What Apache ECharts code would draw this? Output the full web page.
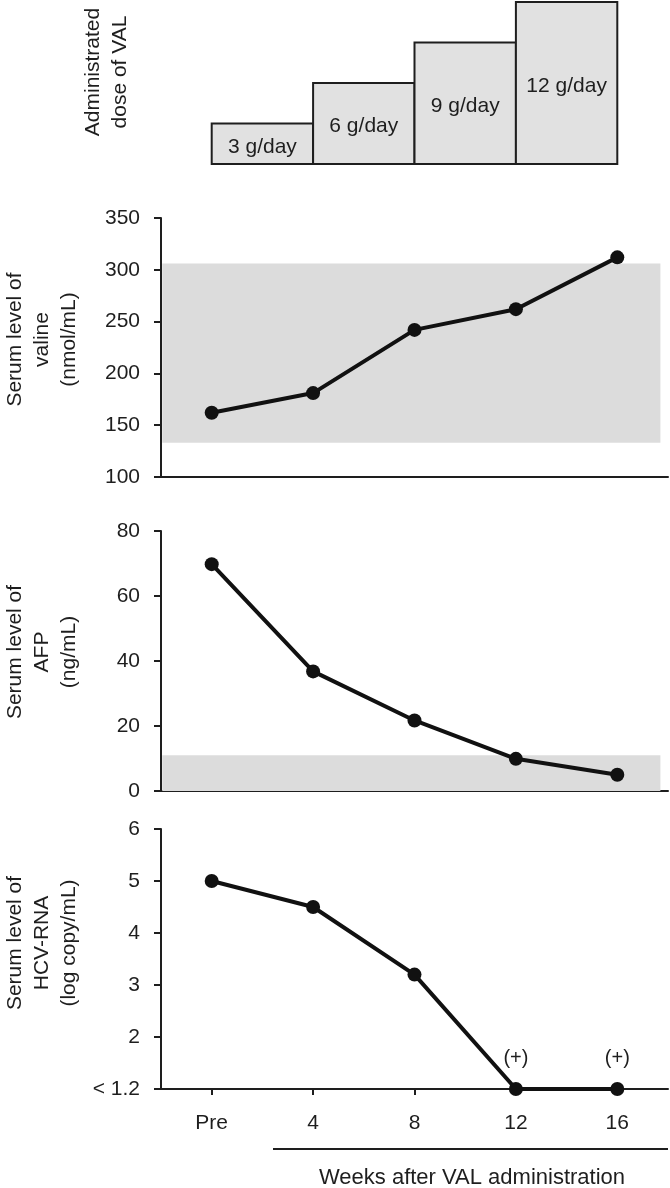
<!DOCTYPE html>
<html>
<head>
<meta charset="utf-8">
<script src="https://cdn.jsdelivr.net/npm/echarts@6/dist/echarts.min.js"></script>
<style>
  html, body { margin: 0; padding: 0; background: #ffffff; }
  #chart { width: 670px; height: 1188px; }
</style>
</head>
<body>
<div id="chart"></div>
<script>
// ---- data ----
const weeks = [0, 4, 8, 12, 16];
const weekLabels = ['Pre', '4', '8', '12', '16'];

const doseStart = [0, 4, 8, 12];
const doseEnd = [4, 8, 12, 16];
const doseValues = [3, 6, 9, 12];
const doseLabels = ['3 g/day', '6 g/day', '9 g/day', '12 g/day'];

const valine = [162, 181, 242, 262, 312];
const valineRange = [133, 306];          // shaded reference range
const afp = [69.8, 36.8, 21.7, 9.9, 5.0];
const afpRange = [0, 11];                // shaded reference range
const hcv = [5.0, 4.5, 3.2, 1.0, 1.0];   // 1.0 = below detection limit (< 1.2)
const hcvNotes = ['', '', '', '(+)', '(+)'];

const valineTicks = { min: 100, max: 350, interval: 50 };
const afpTicks = { min: 0, max: 80, interval: 20 };
const hcvTicks = { min: 1, max: 6, interval: 1 };
const hcvBottomLabel = '< 1.2';

const xRange = { min: -2, max: 18 };
const bandEnd = 17.7;

// ---- chart ----
const FONT = "'Liberation Sans', Arial, sans-serif";
const INK = '#1e1e1e';
const chart = echarts.init(document.getElementById('chart'), null, { renderer: 'canvas' });

function pairs(ys) { return weeks.map((w, i) => [w, ys[i]]); }

function xAxisBase(gridIndex, showLabels) {
  return {
    type: 'value', gridIndex, min: xRange.min, max: xRange.max,
    splitLine: { show: false },
    axisLine: { show: gridIndex !== 0, onZero: false, lineStyle: { color: INK, width: 2 } },
    axisTick: showLabels
      ? { show: true, inside: false, length: 6, customValues: weeks, lineStyle: { color: INK, width: 2 } }
      : { show: false },
    axisLabel: showLabels
      ? { show: true, customValues: weeks, margin: 24, fontSize: 21, fontFamily: FONT, color: INK,
          formatter: v => weekLabels[weeks.indexOf(v)] }
      : { show: false }
  };
}

function yAxisBase(gridIndex, ticks, name, shiftUp, fmt) {
  return {
    type: 'value', gridIndex, min: ticks.min, max: ticks.max, interval: ticks.interval,
    splitLine: { show: false },
    axisLine: { show: true, onZero: false, lineStyle: { color: INK, width: 2 } },
    axisTick: { show: true, length: 7, lineStyle: { color: INK, width: 2 } },
    axisLabel: { fontSize: 21, fontFamily: FONT, color: INK, margin: 21, formatter: fmt },
    name, nameLocation: 'middle', nameRotate: 90, nameGap: 78,
    nameMoveOverlap: false,
    nameTextStyle: { fontSize: 21, fontFamily: FONT, color: INK, lineHeight: 27, align: 'center',
                     padding: [0, 0, 0, shiftUp * 2] }
  };
}

const lineSeries = (idx, ys, extra) => Object.assign({
  type: 'line', xAxisIndex: idx, yAxisIndex: idx,
  data: pairs(ys),
  symbol: 'circle', symbolSize: 14,
  lineStyle: { color: '#111', width: 4 },
  itemStyle: { color: '#111' },
  z: 5
}, extra || {});

const gridBase = { left: 161, right: 2, outerBoundsMode: 'none', containLabel: false };

const option = {
  backgroundColor: '#ffffff',
  animation: false,
  grid: [
    Object.assign({ top: 2, height: 162 }, gridBase),
    Object.assign({ top: 218, height: 259 }, gridBase),
    Object.assign({ top: 531, height: 260 }, gridBase),
    Object.assign({ top: 829, height: 260 }, gridBase)
  ],
  xAxis: [xAxisBase(0, false), xAxisBase(1, false), xAxisBase(2, false), xAxisBase(3, true)],
  yAxis: [
    {
      type: 'value', gridIndex: 0, min: 0, max: 12,
      splitLine: { show: false }, axisLine: { show: false, onZero: false }, axisTick: { show: false }, axisLabel: { show: false },
      name: 'Administrated\ndose of VAL', nameLocation: 'middle', nameRotate: 90, nameGap: 27,
      nameMoveOverlap: false,
      nameTextStyle: { fontSize: 21, fontFamily: FONT, color: INK, lineHeight: 27, align: 'center', padding: [0, 0, 0, 22] }
    },
    yAxisBase(1, valineTicks, 'Serum level of\nvaline\n(nmol/mL)', 8),
    yAxisBase(2, afpTicks, 'Serum level of\nAFP\n(ng/mL)', 9),
    yAxisBase(3, hcvTicks, 'Serum level of\nHCV-RNA\n(log copy/mL)', 16, v => (v === hcvTicks.min ? hcvBottomLabel : String(v)))
  ],
  series: [
    {
      type: 'custom', xAxisIndex: 0, yAxisIndex: 0,
      data: doseValues.map((d, i) => [doseStart[i], doseEnd[i], d, doseLabels[i]]),
      encode: { x: [0, 1], y: 2 },
      renderItem: function (params, api) {
        const tl = api.coord([api.value(0), api.value(2)]);
        const br = api.coord([api.value(1), 0]);
        const w = br[0] - tl[0], h = br[1] - tl[1];
        return {
          type: 'group',
          children: [
            { type: 'rect', shape: { x: tl[0], y: tl[1], width: w, height: h },
              style: { fill: '#e1e1e1', stroke: '#1e1e1e', lineWidth: 2 } },
            { type: 'text',
              style: { x: tl[0] + w / 2, y: tl[1] + h / 2 + 3, text: api.value(3),
                       align: 'center', verticalAlign: 'middle',
                       font: '21px ' + FONT, fill: INK } }
          ]
        };
      }
    },
    lineSeries(1, valine, {
      markArea: {
        silent: true,
        itemStyle: { color: '#dcdcdc' },
        data: [[{ xAxis: xRange.min + 0.05, yAxis: valineRange[0] }, { xAxis: bandEnd, yAxis: valineRange[1] }]]
      }
    }),
    lineSeries(2, afp, {
      markArea: {
        silent: true,
        itemStyle: { color: '#dcdcdc' },
        data: [[{ xAxis: xRange.min + 0.05, yAxis: afpRange[0] }, { xAxis: bandEnd, yAxis: afpRange[1] }]]
      }
    }),
    lineSeries(3, hcv, {
      label: {
        show: true, position: 'top', distance: 14,
        fontSize: 20, fontFamily: FONT, color: INK,
        formatter: p => hcvNotes[p.dataIndex]
      }
    })
  ],
  graphic: [
    { type: 'line', shape: { x1: 273, y1: 1149, x2: 668, y2: 1149 },
      style: { stroke: INK, lineWidth: 2 } },
    { type: 'text', x: 472, y: 1178,
      style: { text: 'Weeks after VAL administration', align: 'center', verticalAlign: 'middle',
               font: '22px ' + FONT, fill: INK } }
  ]
};

chart.setOption(option);
</script>
</body>
</html>
